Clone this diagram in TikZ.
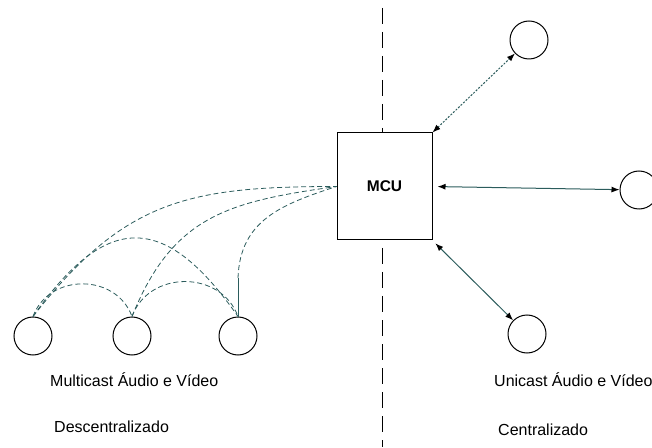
\documentclass[tikz,border=0pt]{standalone}
\usepackage{fontspec}
\setmainfont{Liberation Sans}
\usetikzlibrary{arrows.meta}
\definecolor{linkc}{HTML}{2B5C5C}
\tikzset{
  peer/.style={circle, draw=black, line width=1pt, minimum size=38pt, inner sep=0pt},
  mesh/.style={draw=linkc, line width=0.8pt, dash pattern=on 5pt off 3pt},
  uni/.style={draw=linkc, line width=1pt, {Latex[color=black,length=8pt,width=6pt]}-{Latex[color=black,length=8pt,width=6pt]}},
  lbl/.style={anchor=west, inner sep=0pt, font=\fontsize{16}{19}\selectfont}
}
\begin{document}
\begin{tikzpicture}[x=1pt,y=1pt]
\useasboundingbox (0,0) rectangle (652,447);
% divider
\draw[line width=1pt, dash pattern=on 16pt off 8pt] (382,439) -- (382,0);
% MCU
\node[draw=black, fill=white, line width=1pt, minimum width=95pt, minimum height=107pt, inner sep=0pt,
      font=\bfseries\fontsize{15.5}{18}\selectfont] (mcu) at (384.5,260.5) {MCU};
% peers left
\node[peer] (c1) at (33,111) {};
\node[peer] (c2) at (132,111) {};
\node[peer] (c3) at (238,111) {};
% peers right
\node[peer] (c4) at (529,407) {};
\node[peer] (c5) at (639,257) {};
\node[peer] (c6) at (527,113) {};
% mesh
\draw[mesh] (c1.north) to[out=70,in=110,looseness=1.2] (c2.north);
\draw[mesh] (c2.north) to[out=70,in=110,looseness=1.2] (c3.north);
\draw[mesh] (c1.north) to[out=55,in=125,looseness=1.6] (c3.north);
\draw[mesh] (c1.north) to[out=52,in=180,looseness=1.15] (mcu.west);
\draw[mesh] (c2.north) to[out=68,in=188,looseness=1.15] (mcu.west);
\coordinate (c3up) at (238,169);
\draw[draw=linkc, line width=0.8pt] (c3.north) -- (c3up);
\draw[mesh] (c3up) to[out=88,in=198,looseness=1.1] (mcu.west);
% unicast
\draw[uni, dash pattern=on 2pt off 1.5pt] (mcu.north east) -- (c4);
\draw[uni, shorten <=5pt] (mcu.east) -- (c5);
\draw[uni, shorten <=4pt] (mcu.south east) -- (c6);
% labels
\node[lbl] (t1) at (50,67) {Multicast Áudio e Vídeo};
\node[lbl] (t2) at (54,20) {Descentralizado};
\node[lbl] (t3) at (494,67) {Unicast Áudio e Vídeo};
\node[lbl] (t4) at (498,17) {Centralizado};
\end{tikzpicture}
\end{document}
